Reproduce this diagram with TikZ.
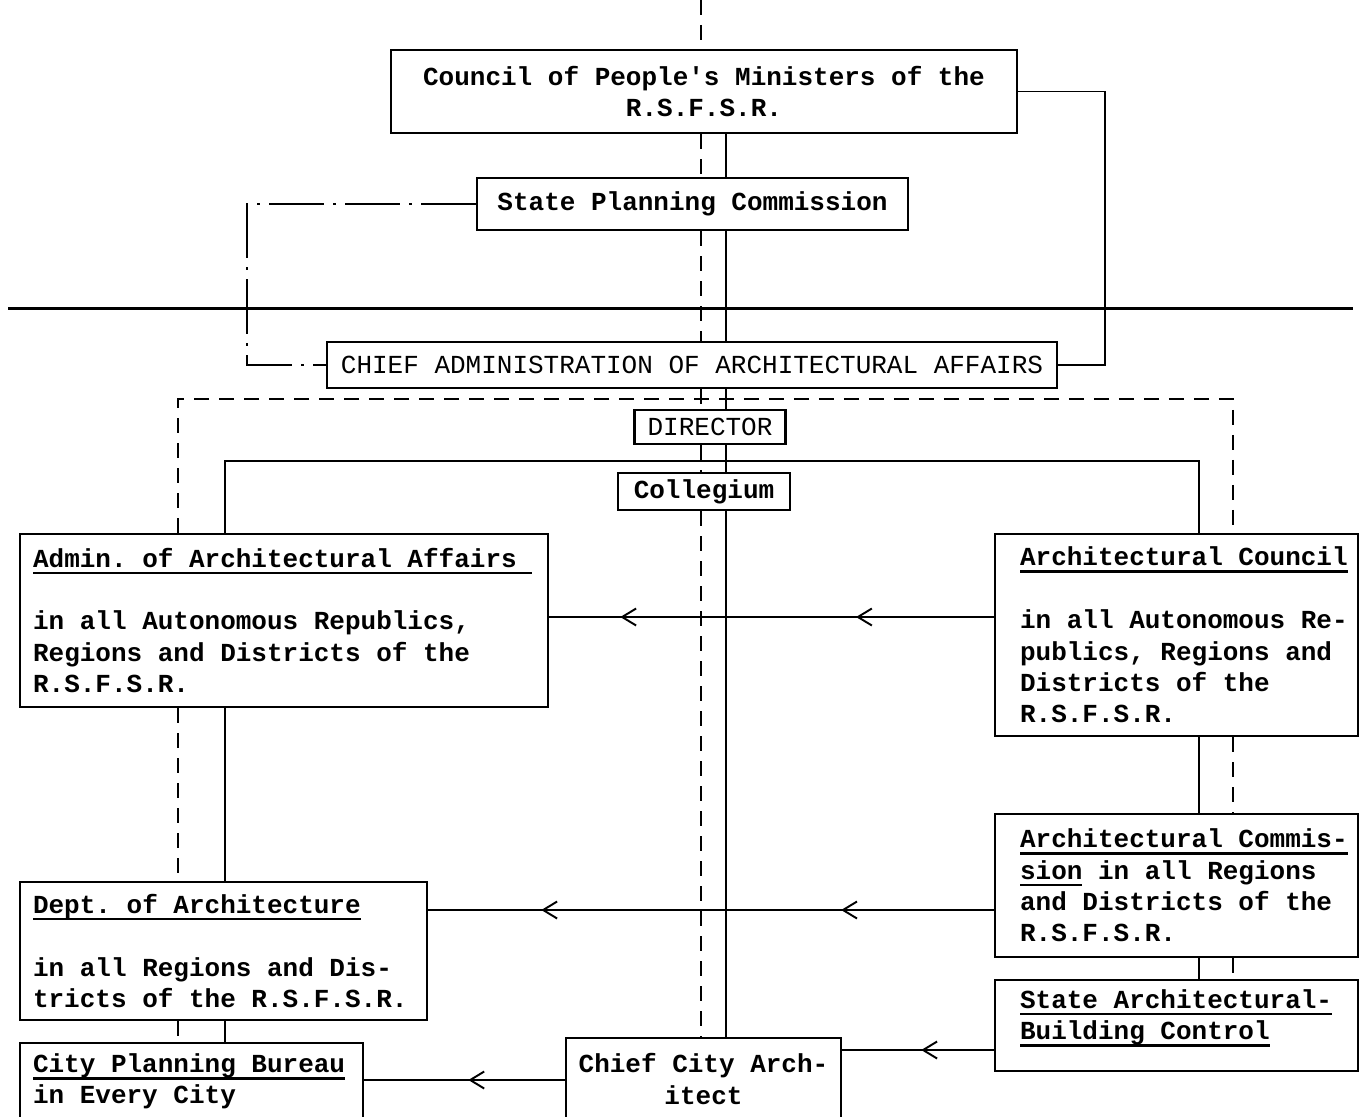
\documentclass[tikz,border=0pt]{standalone}
\usepackage{fontspec}
\setmonofont{Liberation Mono}
\usetikzlibrary{arrows.meta}
\usetikzlibrary{decorations.markings}

\newcommand\typed{\fontsize{14.8pt}{17.9pt}\selectfont\ttfamily\bfseries}
\newcommand\fullsp{\spaceskip=0pt\relax\xspaceskip=0pt\relax\rightskip=-1cm plus 1fil\relax}
\newcommand\ulined[1]{\leavevmode\setbox0\hbox{#1}\rlap{\rule[-4pt]{\wd0}{1.3pt}}\box0\relax}

\begin{document}
\begin{tikzpicture}[yscale=-1, x=0.02cm, y=0.02cm,
	box/.style={fill=white, draw=black, line width=1.3pt, inner xsep=0.26cm, inner ysep=0pt, font=\typed},
	link/.style={fill=none, line width=1.1pt},
	dsh/.style={link, dash pattern=on 0.3cm off 0.2cm},
	dshdot/.style={link, dash pattern=on 1.1cm off 0.18cm on 0.06cm off 0.18cm},
	oneto/.style={link, postaction={decorate}, decoration={markings,
		mark=at position #1 with {\arrow{Straight Barb[length=2.8mm,width=3.4mm]}}}},
	twoto/.style 2 args={link, postaction={decorate}, decoration={markings,
		mark=at position #1 with {\arrow{Straight Barb[length=2.8mm,width=3.4mm]}},
		mark=at position #2 with {\arrow{Straight Barb[length=2.8mm,width=3.4mm]}}}}]
	\useasboundingbox (0, 0) rectangle (1361, 1116);

	\node [box, minimum width=12.52cm, minimum height=1.66cm, align=center] (council) at (704, 91.5) {Council of People's Ministers of the\\R.S.F.S.R.};
	\node [box, minimum width=8.62cm, minimum height=1.04cm] (spc) at (692.5, 204) {State Planning Commission};
	\node [box, minimum width=14.6cm, minimum height=0.92cm, font={\typed\mdseries}] (chiefadm) at (692, 365) {CHIEF ADMINISTRATION OF ARCHITECTURAL AFFAIRS};
	\node [box, minimum width=3.0cm, minimum height=0.68cm, font={\typed\mdseries}] (director) at (710, 427) {DIRECTOR};
	\node [box, minimum width=3.44cm, minimum height=0.74cm] (collegium) at (704, 491.5) {Collegium};

	\node [box, minimum width=10.56cm, minimum height=3.46cm, text width=10.04cm, align=left] (admin) at (284, 620.5) {\fullsp\ulined{Admin. of Architectural Affairs\ }\\[17.9pt]in all Autonomous Republics,\\Regions and Districts of the\\R.S.F.S.R.};
	\node [box, minimum width=7.26cm, minimum height=4.04cm, inner xsep=0.5cm, text width=6.26cm, align=left] (archc) at (1176.5, 635) {\fullsp\ulined{Architectural Council}\\[17.9pt]in all Autonomous Re-\\publics, Regions and\\Districts of the\\R.S.F.S.R.};
	\node [box, minimum width=8.14cm, minimum height=2.76cm, text width=7.62cm, align=left] (dept) at (223.5, 951) {\fullsp\ulined{Dept. of Architecture}\\[17.9pt]in all Regions and Dis-\\tricts of the R.S.F.S.R.};
	\node [box, minimum width=7.26cm, minimum height=2.86cm, inner xsep=0.5cm, text width=6.26cm, align=left] (archcomm) at (1176.5, 885.5) {\fullsp\ulined{Architectural Commis-}\\\ulined{sion} in all Regions\\and Districts of the\\R.S.F.S.R.};
	\node [box, minimum width=7.26cm, minimum height=1.82cm, inner xsep=0.5cm, text width=6.26cm, align=left] (control) at (1176.5, 1025.5) {\fullsp\ulined{State Architectural-}\\\ulined{Building Control}\par\kern0.3cm};
	\node [box, minimum width=6.86cm, minimum height=1.54cm, text width=6.34cm, align=left] (bureau) at (191.5, 1081.5) {\fullsp\ulined{City Planning Bureau}\\in Every City};
	\node [box, minimum width=5.46cm, minimum height=1.64cm, align=center] (chiefcity) at (703.5, 1079) {Chief City Arch-\\itect};

	\coordinate (dtop) at (701, 0);
	\coordinate (spine) at (726, 0);
	\coordinate (ddl) at (247, 0);
	\coordinate (rr) at (1105, 0);
	\coordinate (hl) at (8, 308);
	\coordinate (hr) at (1353, 308);
	\coordinate (dtl) at (178, 399);
	\coordinate (dtr) at (1233, 399);
	\coordinate (stl) at (225, 461);
	\coordinate (str) at (1199, 461);
	\coordinate (ya) at (0, 617);
	\coordinate (yb) at (0, 910);
	\coordinate (yc) at (0, 1050);
	\coordinate (yd) at (0, 1080);

	% dividing line
	\draw [link, line width=1.7pt] (hl) to (hr);

	% central lines
	\draw [dsh] (dtop) to (council.north -| dtop);
	\draw [dsh] (council.south -| dtop) to (spc.north -| dtop);
	\draw [dsh] (spc.south -| dtop) to (chiefadm.north -| dtop);
	\draw [dsh] (chiefadm.south -| dtop) to (director.north -| dtop);
	\draw [dsh] (director.south -| dtop) to (collegium.north -| dtop);
	\draw [dsh] (collegium.south -| dtop) to (chiefcity.north -| dtop);
	\draw [link] (council.south -| spine) to (spc.north -| spine);
	\draw [link] (spc.south -| spine) to (chiefadm.north -| spine);
	\draw [link] (chiefadm.south -| spine) to (director.north -| spine);
	\draw [link] (director.south -| spine) to (collegium.north -| spine);
	\draw [link] (collegium.south -| spine) to (chiefcity.north -| spine);

	\draw [dshdot] (spc.west) -- (spc.west -| ddl) |- (chiefadm.west);
	\draw [link] (council.east) -- (council.east -| rr) |- (chiefadm.east);

	% left and right branches
	\draw [dsh] (admin.north -| dtl) -- (dtl) -- (dtr) -- (archc.north -| dtr);
	\draw [dsh] (admin.south -| dtl) to (dept.north -| dtl);
	\draw [dsh] (dept.south -| dtl) to (bureau.north -| dtl);
	\draw [dsh] (archc.south -| dtr) to (archcomm.north -| dtr);
	\draw [dsh] (archcomm.south -| dtr) to (control.north -| dtr);
	\draw [link] (admin.north -| stl) -- (stl) -- (str) -- (archc.north -| str);
	\draw [link] (admin.south -| stl) to (dept.north -| stl);
	\draw [link] (dept.south -| stl) to (bureau.north -| stl);
	\draw [link] (archc.south -| str) to (archcomm.north -| str);
	\draw [link] (archcomm.south -| str) to (control.north -| str);

	% arrows
	\draw [twoto={0.31}{0.84}] (archc.west |- ya) to (admin.east |- ya);
	\draw [twoto={0.27}{0.80}] (archcomm.west |- yb) to (dept.east |- yb);
	\draw [oneto=0.48] (control.west |- yc) to (chiefcity.east |- yc);
	\draw [oneto=0.48] (chiefcity.west |- yd) to (bureau.east |- yd);
\end{tikzpicture}
\end{document}
